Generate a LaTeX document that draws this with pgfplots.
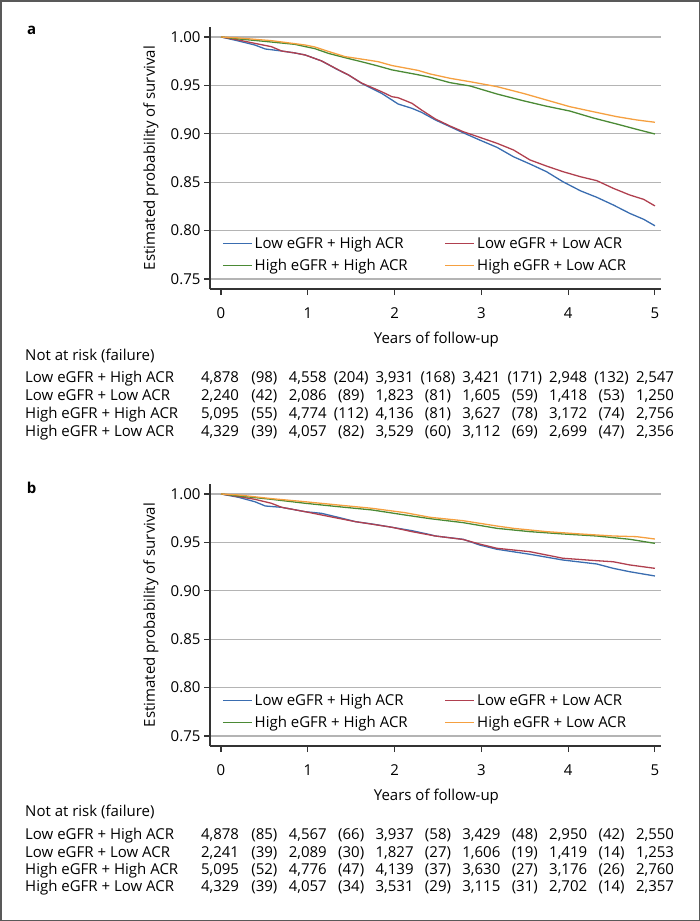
\documentclass[border=0pt]{standalone}
\usepackage{fontspec}
\setmainfont{Open Sans}
\usepackage{pgfplots}
\pgfplotsset{compat=1.18}
\definecolor{cblue}{HTML}{3A6DB0}
\definecolor{cred}{HTML}{B0404F}
\definecolor{cgreen}{HTML}{4B8A35}
\definecolor{corange}{HTML}{F5A040}
\definecolor{axgray}{HTML}{333333}
\definecolor{gridgray}{HTML}{B4B4B4}
\newcommand{\fs}{\fontsize{15}{18}\selectfont}
\pgfplotsset{km/.style={
  scale only axis, width=451pt, height=262pt,
  xmin=-0.127, xmax=5.07, ymin=0.7397, ymax=1.0103,
  axis x line*=bottom, axis y line*=left,
  axis line style={line width=1.3pt, axgray, -},
  xtick={0,1,2,3,4,5}, ytick={0.75,0.80,0.85,0.90,0.95,1.00},
  tick align=outside, major tick length=6pt,
  tick style={line width=1.1pt, axgray},
  ymajorgrids, grid style={line width=1.2pt, gridgray},
  yticklabel style={/pgf/number format/.cd, fixed, fixed zerofill, precision=2},
  /pgf/number format/assume math mode=true,
  ticklabel style={font=\fs},
  xticklabel style={yshift=-9pt},
  label style={font=\fs},
  xlabel={Years of follow-up},
  ylabel={Estimated probability of survival},
  xlabel style={at={(axis description cs:0.502,0)}, anchor=center, yshift=-51pt},
  ylabel style={at={(axis description cs:-0.131,0.5)}, anchor=center},
  legend columns=2, legend cell align=left,
  legend style={draw=none, fill=none, font=\fs, row sep=5pt,
    at={(axis description cs:0.02,0.131)}, anchor=west,
    /tikz/every even column/.append style={column sep=35pt}},
  legend image code/.code={\draw[#1, line width=1.5pt] (0pt,0pt) -- (29pt,0pt);},
  every axis plot/.append style={line width=1.3pt, sharp plot, no marks},
}}
\newcommand{\cnt}[7]{%
  \node[anchor=mid] at (220pt,-#1pt) {#2};
  \node[anchor=mid] at (307.8pt,-#1pt) {#3};
  \node[anchor=mid] at (394.6pt,-#1pt) {#4};
  \node[anchor=mid] at (481.4pt,-#1pt) {#5};
  \node[anchor=mid] at (568.2pt,-#1pt) {#6};
  \node[anchor=mid] at (655pt,-#1pt) {#7};}
\newcommand{\fl}[7]{% y, label, f0..f4
  \node[anchor=mid west, inner xsep=0pt] at (25pt,-#1pt) {#2};
  \node[anchor=mid] at (264.4pt,-#1pt) {#3};
  \node[anchor=mid] at (351.2pt,-#1pt) {#4};
  \node[anchor=mid] at (438pt,-#1pt) {#5};
  \node[anchor=mid] at (524.8pt,-#1pt) {#6};
  \node[anchor=mid] at (611.6pt,-#1pt) {#7};}
\begin{document}
\begin{tikzpicture}[font=\fs]
\useasboundingbox (0,0) rectangle (700pt,-921pt);
\draw[line width=1.5pt, black!65] (0.75pt,-0.75pt) rectangle (699.25pt,-920.25pt);
% ---------------- panel a
\node[font=\fs\bfseries] at (31.7pt,-30.7pt) {a};
\begin{axis}[km, at={(210pt,-289pt)}, anchor=south west]
\addplot[cblue] coordinates {(0,1.0) (0.2,0.9959) (0.39,0.9917) (0.51,0.9876) (0.70,0.9855) (0.85,0.9835) (0.97,0.9814) (1.16,0.9752) (1.35,0.9659) (1.47,0.9607) (1.62,0.9521) (1.85,0.9418) (1.97,0.9349) (2.04,0.9308) (2.20,0.9263) (2.31,0.9222) (2.47,0.9143) (2.64,0.9073) (2.79,0.9011) (2.98,0.8936) (3.18,0.886) (3.37,0.8763) (3.56,0.8688) (3.75,0.8609) (3.94,0.8505) (4.14,0.8412) (4.33,0.8344) (4.52,0.8265) (4.71,0.8178) (4.87,0.8117) (5.0,0.805)};
\addplot[cred] coordinates {(0,1) (0.2,0.9969) (0.39,0.9934) (0.58,0.99) (0.70,0.9855) (0.85,0.9835) (0.97,0.9814) (1.16,0.9752) (1.35,0.9662) (1.47,0.9607) (1.62,0.9524) (1.85,0.9435) (1.97,0.9383) (2.04,0.9373) (2.20,0.9315) (2.31,0.9246) (2.47,0.9153) (2.64,0.908) (2.79,0.9022) (2.98,0.8964) (3.18,0.8902) (3.37,0.8833) (3.56,0.873) (3.75,0.8667) (3.94,0.8609) (4.14,0.8557) (4.33,0.8516) (4.52,0.8437) (4.71,0.8368) (4.87,0.8323) (5.0,0.8255)};
\addplot[cgreen] coordinates {(0,1) (0.2,0.998) (0.5,0.9955) (0.85,0.9924) (1.0,0.9895) (1.08,0.988) (1.24,0.983) (1.43,0.9786) (1.66,0.9735) (1.81,0.970) (1.97,0.966) (2.12,0.9635) (2.27,0.961) (2.41,0.9584) (2.64,0.9528) (2.87,0.9494) (3.18,0.9411) (3.48,0.9342) (3.75,0.9285) (4.02,0.9235) (4.29,0.9163) (4.56,0.9101) (4.79,0.9046) (5.0,0.8998)};
\addplot[corange] coordinates {(0,1) (0.2,0.999) (0.58,0.9962) (0.85,0.9931) (0.97,0.9917) (1.08,0.9897) (1.24,0.985) (1.43,0.9797) (1.66,0.9766) (1.81,0.9745) (1.97,0.9705) (2.12,0.968) (2.27,0.9655) (2.41,0.9618) (2.64,0.9573) (2.87,0.9538) (3.18,0.9487) (3.48,0.9418) (3.75,0.9349) (4.02,0.928) (4.29,0.9228) (4.56,0.9177) (4.79,0.9143) (5.0,0.9119)};
\legend{Low eGFR + High ACR, Low eGFR + Low ACR, High eGFR + High ACR, High eGFR + Low ACR}
\end{axis}
\node[anchor=mid west, inner xsep=0pt] at (25pt,-357.5pt) {Not at risk (failure)};
\fl{380.3}{Low eGFR + High ACR}{(98)}{(204)}{(168)}{(171)}{(132)}
\cnt{380.3}{4,878}{4,558}{3,931}{3,421}{2,948}{2,547}
\fl{398.2}{Low eGFR + Low ACR}{(42)}{(89)}{(81)}{(59)}{(53)}
\cnt{398.2}{2,240}{2,086}{1,823}{1,605}{1,418}{1,250}
\fl{416}{High eGFR + High ACR}{(55)}{(112)}{(81)}{(78)}{(74)}
\cnt{416}{5,095}{4,774}{4,136}{3,627}{3,172}{2,756}
\fl{433.7}{High eGFR + Low ACR}{(39)}{(82)}{(60)}{(69)}{(47)}
\cnt{433.7}{4,329}{4,057}{3,529}{3,112}{2,699}{2,356}
% ---------------- panel b
\node[font=\fs\bfseries] at (31.7pt,-487.5pt) {b};
\begin{axis}[km, at={(210pt,-746pt)}, anchor=south west]
\addplot[cblue] coordinates {(0,1) (0.2,0.9966) (0.39,0.992) (0.51,0.9876) (0.70,0.9862) (0.97,0.9817) (1.16,0.98) (1.35,0.9759) (1.55,0.9714) (1.74,0.969) (1.97,0.9656) (2.20,0.9621) (2.41,0.958) (2.47,0.9566) (2.79,0.9532) (2.98,0.9473) (3.18,0.9429) (3.56,0.9377) (3.94,0.9318) (4.33,0.9277) (4.52,0.9232) (4.71,0.9197) (5.0,0.9153)};
\addplot[cred] coordinates {(0,1) (0.2,0.9973) (0.39,0.9945) (0.58,0.9904) (0.70,0.9862) (0.97,0.9817) (1.16,0.9783) (1.35,0.9749) (1.55,0.9714) (1.74,0.9688) (1.97,0.9656) (2.20,0.9611) (2.47,0.9566) (2.79,0.953) (2.98,0.9483) (3.18,0.9439) (3.56,0.9404) (3.94,0.9336) (4.33,0.9311) (4.52,0.930) (4.71,0.9267) (5.0,0.9232)};
\addplot[cgreen] coordinates {(0,1) (0.2,0.998) (0.58,0.9945) (0.97,0.9904) (1.35,0.9869) (1.74,0.9835) (2.12,0.9783) (2.41,0.9745) (2.79,0.9704) (3.18,0.9645) (3.56,0.9611) (3.94,0.9587) (4.33,0.9566) (4.71,0.9532) (5.0,0.949)};
\addplot[corange] coordinates {(0,1) (0.2,0.999) (0.58,0.9952) (0.97,0.992) (1.35,0.9886) (1.74,0.9852) (2.12,0.9807) (2.41,0.9759) (2.79,0.9724) (3.18,0.9669) (3.37,0.9645) (3.75,0.9611) (4.14,0.9587) (4.52,0.9566) (4.79,0.9559) (5.0,0.9535)};
\legend{Low eGFR + High ACR, Low eGFR + Low ACR, High eGFR + High ACR, High eGFR + Low ACR}
\end{axis}
\node[anchor=mid west, inner xsep=0pt] at (25pt,-814.3pt) {Not at risk (failure)};
\fl{837}{Low eGFR + High ACR}{(85)}{(66)}{(58)}{(48)}{(42)}
\cnt{837}{4,878}{4,567}{3,937}{3,429}{2,950}{2,550}
\fl{855}{Low eGFR + Low ACR}{(39)}{(30)}{(27)}{(19)}{(14)}
\cnt{855}{2,241}{2,089}{1,827}{1,606}{1,419}{1,253}
\fl{871.7}{High eGFR + High ACR}{(52)}{(47)}{(37)}{(27)}{(26)}
\cnt{871.7}{5,095}{4,776}{4,139}{3,630}{3,176}{2,760}
\fl{888.7}{High eGFR + Low ACR}{(39)}{(34)}{(29)}{(31)}{(14)}
\cnt{888.7}{4,329}{4,057}{3,531}{3,115}{2,702}{2,357}
\end{tikzpicture}
\end{document}
